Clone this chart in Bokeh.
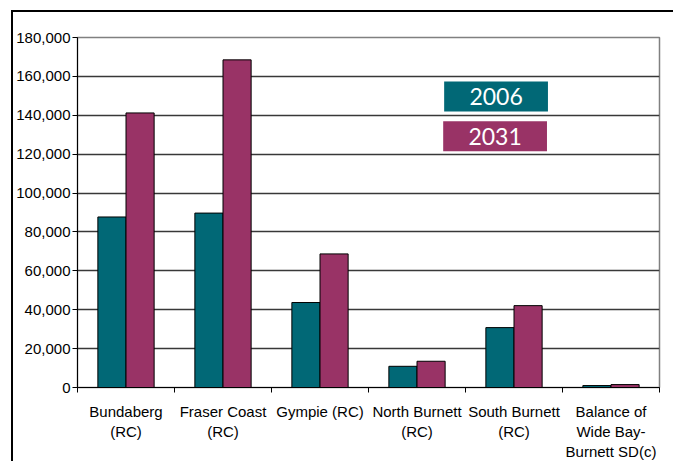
from bokeh.plotting import figure
from bokeh.models import (FixedTicker, NumeralTickFormatter, Range1d, BoxAnnotation, Label,
                          ColumnDataSource)
from bokeh.embed import file_html
from bokeh.resources import INLINE

categories = ["Bundaberg\n(RC)", "Fraser Coast\n(RC)", "Gympie (RC)", "North Burnett\n(RC)",
              "South Burnett\n(RC)", "Balance of\nWide Bay-\nBurnett SD(c)"]
pop_2006 = [87700, 89700, 43700, 10900, 30800, 1000]
pop_2031 = [141200, 168500, 68700, 13500, 42100, 1500]
series_names = ["2006", "2031"]
y_ticks = [0, 20000, 40000, 60000, 80000, 100000, 120000, 140000, 160000, 180000]

TEAL = "#016876"
PLUM = "#993366"

n = len(categories)
centers = [i + 0.5 for i in range(n)]
off = 0.145
bw = 0.29

src = ColumnDataSource(dict(
    x06=[c - off for c in centers], x31=[c + off for c in centers],
    v06=pop_2006, v31=pop_2031))

p = figure(width=662, height=451, output_backend="svg", toolbar_location=None,
           x_range=Range1d(0, n), y_range=Range1d(0, 180000),
           min_border_left=62, min_border_top=25, min_border_right=16, min_border_bottom=75)
p.margin = (10, 0, 0, 11)
p.styles = {"border-top": "2px solid black", "border-left": "2px solid black"}

p.vbar(x="x06", top="v06", width=bw, source=src, fill_color=TEAL, line_color="black", line_width=1)
p.vbar(x="x31", top="v31", width=bw, source=src, fill_color=PLUM, line_color="black", line_width=1)

p.outline_line_color = "#808080"
p.outline_line_width = 1.5
p.background_fill_color = "white"
p.border_fill_color = "white"

# y axis
p.yaxis.ticker = FixedTicker(ticks=y_ticks)
p.yaxis.formatter = NumeralTickFormatter(format="0,0")
p.yaxis.major_label_text_font = "Liberation Sans"
p.yaxis.major_label_text_font_size = "15px"
p.yaxis.major_label_text_color = "black"
p.yaxis.axis_line_color = "black"
p.yaxis.major_tick_line_color = "black"
p.yaxis.major_tick_out = 5
p.yaxis.major_tick_in = 0
p.yaxis.minor_tick_line_color = None
p.yaxis.major_label_standoff = 2

# x axis
p.xaxis.ticker = FixedTicker(ticks=centers, minor_ticks=list(range(n + 1)))
p.xaxis.major_label_overrides = {c: lab for c, lab in zip(centers, categories)}
p.xaxis.major_label_text_font = "Liberation Sans"
p.xaxis.major_label_text_font_size = "15px"
p.xaxis.major_label_text_color = "black"
p.xaxis.axis_line_color = "black"
p.xaxis.major_tick_line_color = None
p.xaxis.major_tick_out = 0
p.xaxis.major_tick_in = 0
p.xaxis.minor_tick_line_color = "black"
p.xaxis.minor_tick_out = 5
p.xaxis.minor_tick_in = 0
p.xaxis.major_label_standoff = 10

p.xgrid.grid_line_color = None
p.ygrid.ticker = FixedTicker(ticks=y_ticks)
p.ygrid.grid_line_color = "#383838"
p.ygrid.grid_line_width = 1.5

# legend boxes
legend_specs = [(series_names[0], TEAL, 4.315, 149700), (series_names[1], PLUM, 4.305, 129200)]
for name, col, lx, ly in legend_specs:
    p.add_layout(BoxAnnotation(left=lx - 0.535, right=lx + 0.535, bottom=ly - 7700, top=ly + 7700,
                               fill_color=col, fill_alpha=1.0, line_color=None, level="overlay"))
    p.add_layout(Label(x=lx, y=ly, text=name, text_color="white", text_font="Lato",
                       text_font_size="23px", text_align="center", text_baseline="middle",
                       level="overlay"))

open("out.html", "w").write(file_html(p, INLINE))
